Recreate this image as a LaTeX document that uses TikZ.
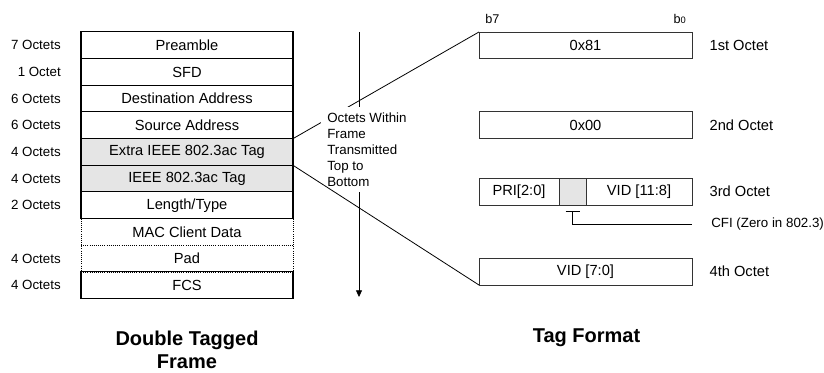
\documentclass[tikz,border=0pt]{standalone}
\usepackage{fontspec}
\setmainfont{Liberation Sans}
\usetikzlibrary{positioning,arrows.meta}

\begin{document}
\begin{tikzpicture}[x=0.75pt, y=-0.75pt,
  field/.style={draw, line width=0.8pt, minimum width=159pt, minimum height=20pt,
    inner sep=0pt, outer sep=0pt, font=\fontsize{11}{12}\selectfont},
  tagfield/.style={field, fill=gray!20},
  datafield/.style={field, draw=none},
  octbox/.style={draw=black!80, line width=0.6pt, minimum height=20pt,
    inner sep=0pt, outer sep=0pt, font=\fontsize{11}{12}\selectfont},
  count/.style={inner sep=0pt, font=\fontsize{10}{11}\selectfont},
  octlbl/.style={inner sep=0pt, anchor=west, font=\fontsize{11}{12}\selectfont},
  bitlbl/.style={inner sep=0pt, font=\fontsize{9.5}{10}\selectfont},
  title/.style={align=center, font=\fontsize{15}{17}\selectfont\bfseries}]

  \useasboundingbox (0,0) rectangle (824,373);

  % Frame layout
  \node[field] (pre) at (187,45.3) {Preamble};
  \node[field, below=0pt of pre] (sfd) {SFD};
  \node[field, below=0pt of sfd] (dst) {Destination Address};
  \node[field, below=0pt of dst] (src) {Source Address};
  \node[tagfield, below=0pt of src] (xtag) {Extra IEEE 802.3ac Tag};
  \node[tagfield, below=0pt of xtag] (vtag) {IEEE 802.3ac Tag};
  \node[field, below=0pt of vtag] (len) {Length/Type};
  \node[datafield, below=0pt of len] (mac) {MAC Client Data};
  \node[datafield, below=0pt of mac] (pad) {Pad};
  \node[field, below=0pt of pad] (fcs) {FCS};
  \draw[densely dotted, line width=0.6pt] (mac.north west) rectangle (pad.south east);
  \draw[densely dotted, line width=0.6pt] (mac.south west) -- (mac.south east);

  % Octet counts
  \node[count, left=15pt of pre.west] {7 Octets};
  \node[count, left=15pt of sfd.west] {1 Octet};
  \node[count, left=15pt of dst.west] {6 Octets};
  \node[count, left=15pt of src.west] {6 Octets};
  \node[count, left=15pt of xtag.west] {4 Octets};
  \node[count, left=15pt of vtag.west] {4 Octets};
  \node[count, left=15pt of len.west] {2 Octets};
  \node[count, left=15pt of pad.west] {4 Octets};
  \node[count, left=15pt of fcs.west] {4 Octets};

  % Tag format
  \node[octbox, minimum width=159.75pt] (t1) at (585.5,45.3) {0x81};
  \node[octbox, minimum width=159.75pt] (t2) at (585.5,125) {0x00};
  \node[octbox, minimum width=60pt, anchor=west] (pri) at (479,191.7) {PRI[2:0]};
  \node[octbox, minimum width=20.25pt, fill=gray!20, right=0pt of pri] (cfi) {};
  \node[octbox, minimum width=79.5pt, right=0pt of cfi] (vid) {VID [11:8]};
  \node[octbox, minimum width=159.75pt] (t4) at (585.5,271.7) {VID [7:0]};

  \node[bitlbl, anchor=base west] (b7) at (485,23.3) {b7};
  \node[bitlbl, anchor=base east] (b0) at (686,23.3) {b{\fontsize{7}{8}\selectfont 0}};

  \node[octlbl, right=13pt of t1] {1st Octet};
  \node[octlbl, right=13pt of t2] {2nd Octet};
  \node[octlbl, right=13pt of vid] {3rd Octet};
  \node[octlbl, right=13pt of t4] {4th Octet};

  % CFI pointer
  \coordinate (cfibar) at ([yshift=-5pt]cfi.south);
  \node[count, anchor=west] (cfilbl) at (711,224.3) {CFI (Zero in 802.3)};
  \draw[line width=0.6pt] ([xshift=-5.25pt]cfibar) -- ([xshift=5.25pt]cfibar);
  \draw[line width=0.6pt] (cfibar) |- ([xshift=-14pt]cfilbl.west);

  % Transmission order
  \coordinate (ftop) at (359,32);
  \coordinate (fbot) at (359,297);
  \draw[line width=0.6pt, -{Triangle[length=5pt,width=4.5pt]}] (ftop) -- (fbot);
  \draw[line width=0.6pt] (xtag.north east) -- (t1.north west);
  \node[fill=white, align=left, anchor=north west, inner xsep=4.5pt, inner ysep=4pt,
    font=\fontsize{10}{12}\selectfont] (order) at (321,107)
    {Octets Within\\Frame\\Transmitted\\Top to\\Bottom};
  \draw[line width=0.6pt] (xtag.south east) -- (t4.south west);

  % Titles
  \node[title] (ftitle) at (187,350) {Double Tagged\\Frame};
  \node[title] (ttitle) at (586.5,338) {Tag Format};

\end{tikzpicture}
\end{document}
